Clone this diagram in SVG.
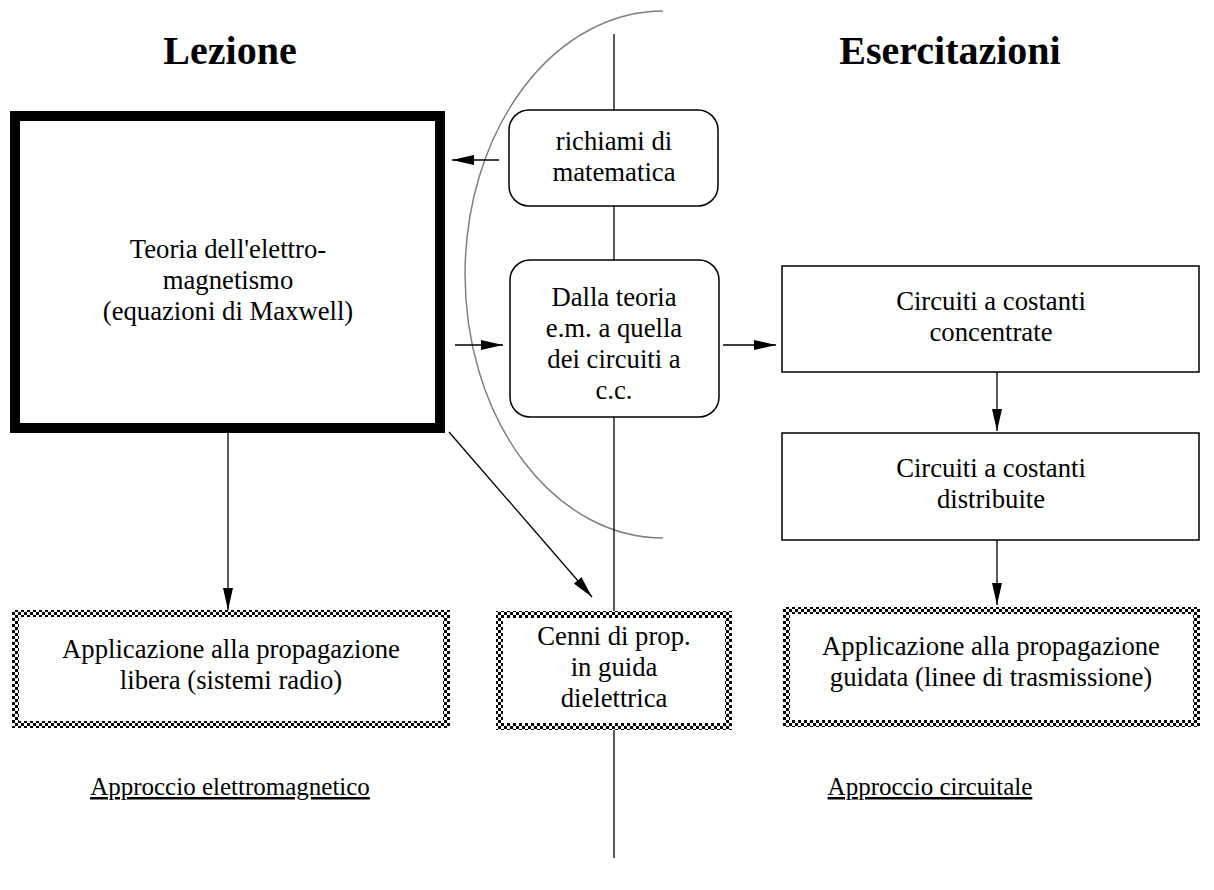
<svg xmlns="http://www.w3.org/2000/svg" width="1214" height="890" viewBox="0 0 1214 890">
<defs>
<style>
text{font-family:"Liberation Serif","Times New Roman",serif;fill:#000;}
.t{font-size:26.7px;text-anchor:middle;}
.h{font-size:40px;font-weight:bold;text-anchor:middle;}
.u{font-size:25px;text-anchor:middle;text-decoration:underline;}
.box{fill:#fff;stroke:#000;stroke-width:1.5;}
.chk{fill:#fff;stroke:url(#checker);stroke-width:7;}
.con{fill:none;stroke:#000;stroke-width:1.3;marker-end:url(#ah);}
</style>
<pattern id="checker" width="6" height="6" patternUnits="userSpaceOnUse">
<rect width="6" height="6" fill="#fff"/>
<rect width="3" height="3" fill="#000"/>
<rect x="3" y="3" width="3" height="3" fill="#000"/>
</pattern>
<marker id="ah" markerUnits="userSpaceOnUse" markerWidth="22" markerHeight="10" refX="22" refY="5" orient="auto">
<path d="M0,0 L22,5 L0,10 z" fill="#000"/>
</marker>
</defs>
<rect width="1214" height="890" fill="#fff"/>
<path id="arc" d="M663,11 A198,263.5 0 0 0 663,538" fill="none" stroke="#808080" stroke-width="1.5"/>
<line id="divider" x1="614" y1="34" x2="614" y2="858" stroke="#000" stroke-width="1.3"/>
<text class="h" x="230" y="64">Lezione</text>
<text class="h" x="950" y="64">Esercitazioni</text>
<g id="teoria">
<rect x="15" y="116" width="425" height="312" fill="#fff" stroke="#000" stroke-width="10"/>
<text class="t" x="228" y="258">Teoria dell'elettro-</text>
<text class="t" x="228" y="289">magnetismo</text>
<text class="t" x="228" y="320">(equazioni di Maxwell)</text>
</g>
<g id="richiami">
<rect class="box" x="509" y="110" width="209" height="96" rx="20"/>
<text class="t" x="614" y="150">richiami di</text>
<text class="t" x="614" y="181">matematica</text>
</g>
<g id="dalla">
<rect class="box" x="510" y="260" width="209" height="157" rx="20"/>
<text class="t" x="614" y="306">Dalla teoria</text>
<text class="t" x="614" y="337">e.m. a quella</text>
<text class="t" x="614" y="368">dei circuiti a</text>
<text class="t" x="614" y="399">c.c.</text>
</g>
<g id="concentrate">
<rect class="box" x="782" y="266" width="417" height="106"/>
<text class="t" x="991" y="310">Circuiti a costanti</text>
<text class="t" x="991" y="341">concentrate</text>
</g>
<g id="distribuite">
<rect class="box" x="782" y="433" width="417" height="107"/>
<text class="t" x="991" y="477">Circuiti a costanti</text>
<text class="t" x="991" y="508">distribuite</text>
</g>
<g id="libera">
<rect class="chk" x="15.5" y="613.5" width="431" height="111"/>
<text class="t" x="231" y="658">Applicazione alla propagazione</text>
<text class="t" x="231" y="689">libera (sistemi radio)</text>
</g>
<g id="cenni">
<rect class="chk" x="499.5" y="614.5" width="229" height="112"/>
<text class="t" x="614" y="645">Cenni di prop.</text>
<text class="t" x="614" y="676">in guida</text>
<text class="t" x="614" y="707">dielettrica</text>
</g>
<g id="guidata">
<rect class="chk" x="786.5" y="610.5" width="410" height="113"/>
<text class="t" x="991" y="655">Applicazione alla propagazione</text>
<text class="t" x="991" y="686">guidata (linee di trasmissione)</text>
</g>
<text class="u" x="230" y="795">Approccio elettromagnetico</text>
<text class="u" x="930" y="795">Approccio circuitale</text>
<g id="connectors">
<path class="con" d="M499,160 L452,160"/>
<path class="con" d="M455,345 L503,345"/>
<path class="con" d="M723,345 L776,345"/>
<path class="con" d="M997,372 L997,431"/>
<path class="con" d="M997,540 L997,605"/>
<path class="con" d="M228,433 L228,610"/>
<path class="con" d="M449,432 L592,597"/>
</g>
</svg>
